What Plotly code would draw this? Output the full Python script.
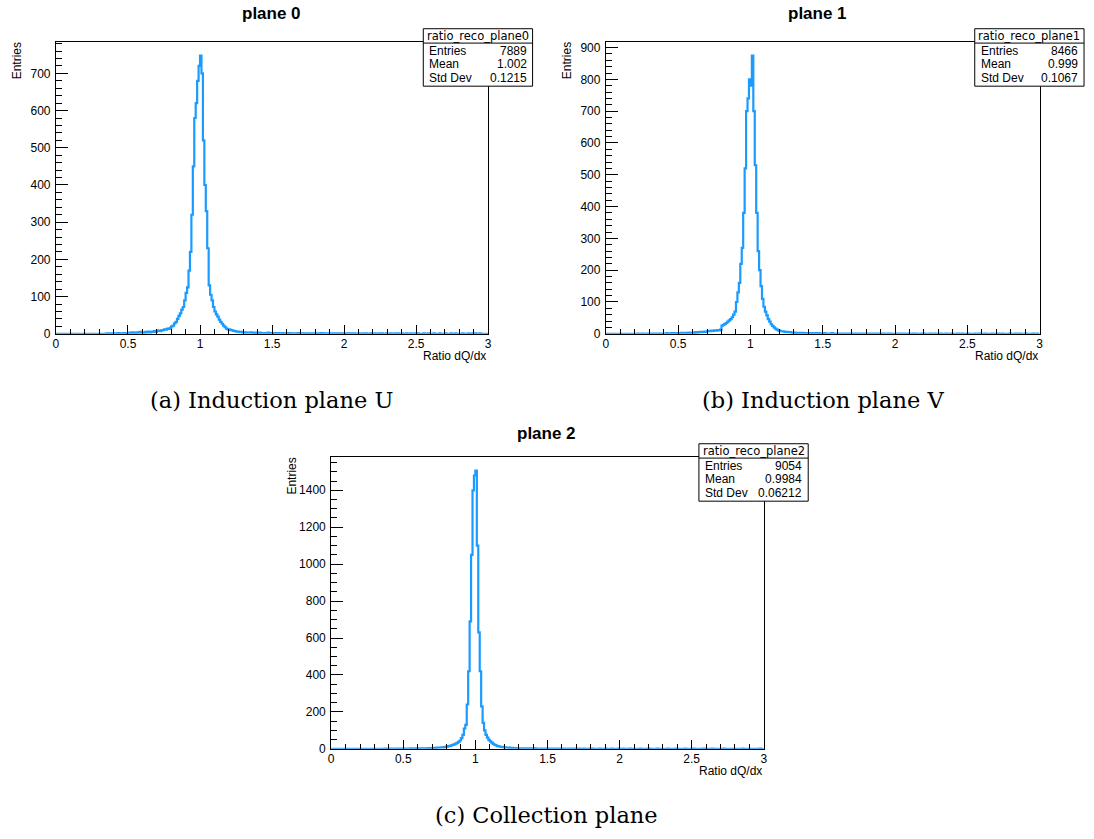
import plotly.graph_objects as go

W, H = 1094, 839
SANS = "Liberation Sans, Arial, Helvetica, sans-serif"
SERIF = "DejaVu Serif, serif"
LINE_COLOR = "#1a9bff"

# ---------------- data (histogram contents, 0.01-wide bins from 0 to 3) ----------------
x_min, x_max, bin_width = 0.0, 3.0, 0.01

plane0_counts = [
    0, 0, 0, 0, 0, 0, 0, 0, 0, 0,
    0, 0, 0, 0, 0, 0, 0, 0, 0, 0,
    0, 0, 0, 0, 0, 0, 0, 0, 0, 0,
    0, 0, 0, 0, 0, 1, 0, 1, 1, 0,
    1, 0, 1, 2, 1, 1, 0, 2, 1, 1,
    2, 3, 2, 4, 3, 2, 4, 3, 5, 3,
    4, 3, 5, 4, 6, 4, 5, 6, 7, 5,
    9, 8, 7, 9, 10, 12, 11, 14, 13, 16,
    20, 22, 28, 32, 40, 48, 55, 65, 72, 90,
    110, 125, 170, 220, 320, 450, 580, 620, 680, 720,
    748, 700, 520, 400, 330, 230, 130, 105, 90, 72,
    60, 52, 46, 38, 32, 27, 22, 18, 14, 12,
    12, 10, 9, 8, 7, 6, 6, 5, 5, 4,
    4, 4, 3, 3, 3, 4, 3, 2, 3, 2,
    2, 3, 2, 2, 1, 2, 2, 3, 1, 2,
    2, 1, 2, 1, 2, 1, 1, 2, 1, 1,
    1, 2, 1, 1, 1, 0, 1, 1, 2, 1,
    1, 1, 0, 1, 1, 1, 0, 1, 1, 0,
    1, 0, 1, 1, 2, 0, 1, 0, 1, 1,
    0, 1, 1, 0, 1, 0, 1, 1, 0, 1,
    1, 0, 1, 0, 1, 1, 0, 1, 0, 0,
    1, 0, 0, 1, 0, 1, 0, 0, 1, 0,
    0, 1, 0, 0, 1, 0, 1, 0, 0, 1,
    0, 0, 1, 0, 0, 1, 0, 1, 0, 0,
    1, 0, 0, 1, 0, 0, 1, 0, 0, 1,
    0, 1, 0, 0, 0, 1, 0, 0, 1, 0,
    0, 0, 1, 0, 0, 0, 1, 0, 0, 0,
    1, 0, 0, 0, 1, 0, 0, 1, 0, 0,
    0, 0, 1, 0, 0, 0, 1, 0, 0, 1,
    0, 1, 0, 0, 1, 0, 0, 0, 0, 0,
]

plane1_counts = [
    0, 0, 0, 0, 0, 0, 0, 0, 0, 0,
    0, 0, 0, 0, 0, 0, 0, 0, 0, 0,
    0, 0, 1, 0, 0, 1, 0, 0, 1, 0,
    1, 0, 1, 1, 0, 1, 1, 0, 1, 1,
    1, 1, 2, 1, 1, 2, 1, 2, 2, 1,
    2, 2, 3, 2, 3, 3, 2, 4, 3, 3,
    4, 3, 5, 4, 5, 6, 5, 6, 7, 6,
    8, 9, 8, 10, 9, 11, 10, 12, 11, 13,
    26, 28, 31, 34, 38, 42, 46, 52, 60, 70,
    100, 130, 160, 220, 270, 380, 520, 700, 740, 800,
    780, 875, 700, 530, 380, 260, 200, 150, 110, 85,
    70, 58, 46, 38, 30, 25, 20, 16, 13, 11,
    9, 8, 8, 7, 6, 6, 5, 5, 4, 4,
    4, 3, 3, 3, 3, 2, 3, 2, 2, 2,
    2, 2, 2, 1, 2, 2, 1, 2, 1, 1,
    1, 2, 1, 1, 1, 1, 2, 1, 1, 1,
    1, 1, 0, 1, 1, 1, 0, 1, 1, 0,
    1, 0, 1, 1, 0, 1, 1, 0, 1, 0,
    0, 1, 0, 1, 0, 1, 0, 1, 0, 1,
    1, 0, 1, 0, 0, 1, 0, 1, 0, 0,
    0, 1, 0, 1, 0, 0, 1, 0, 0, 1,
    0, 0, 1, 0, 1, 0, 0, 0, 1, 0,
    1, 0, 0, 0, 1, 0, 0, 1, 0, 0,
    0, 1, 0, 0, 0, 1, 0, 0, 0, 1,
    0, 0, 0, 1, 0, 0, 1, 0, 0, 0,
    1, 0, 0, 0, 0, 1, 0, 0, 1, 0,
    0, 0, 1, 0, 0, 0, 0, 1, 0, 0,
    0, 1, 0, 0, 1, 0, 0, 0, 0, 1,
    0, 0, 0, 1, 0, 0, 1, 0, 0, 0,
    1, 0, 0, 0, 0, 1, 0, 0, 1, 0,
]

plane2_counts = [
    0, 0, 0, 0, 0, 0, 0, 0, 0, 0,
    0, 0, 0, 0, 0, 0, 0, 0, 0, 0,
    0, 0, 0, 0, 0, 0, 0, 0, 0, 0,
    0, 0, 0, 0, 0, 0, 0, 1, 0, 0,
    0, 1, 0, 0, 1, 0, 1, 0, 1, 1,
    1, 1, 0, 1, 1, 2, 1, 1, 2, 1,
    2, 2, 3, 2, 2, 3, 3, 4, 3, 4,
    4, 5, 5, 6, 6, 7, 8, 8, 9, 10,
    12, 14, 16, 18, 21, 24, 28, 32, 38, 45,
    58, 75, 110, 130, 240, 420, 690, 1050, 1400, 1480,
    1507, 1100, 630, 420, 230, 140, 100, 75, 60, 48,
    40, 33, 27, 22, 18, 15, 13, 11, 10, 9,
    8, 7, 6, 6, 5, 5, 4, 4, 3, 3,
    3, 3, 2, 2, 2, 2, 2, 1, 2, 1,
    1, 2, 1, 1, 1, 1, 1, 1, 0, 1,
    1, 0, 1, 1, 0, 1, 0, 1, 0, 1,
    0, 1, 0, 0, 1, 0, 1, 0, 0, 1,
    0, 0, 1, 0, 0, 1, 0, 0, 0, 1,
    0, 1, 0, 0, 0, 0, 1, 0, 0, 0,
    1, 0, 0, 0, 1, 0, 0, 0, 0, 1,
    0, 0, 1, 0, 0, 0, 0, 1, 0, 0,
    0, 0, 0, 0, 1, 0, 0, 0, 0, 0,
    1, 0, 0, 0, 0, 0, 1, 0, 0, 0,
    0, 0, 0, 1, 0, 0, 0, 0, 0, 1,
    0, 0, 0, 0, 0, 1, 0, 0, 0, 0,
    0, 1, 0, 0, 0, 0, 0, 0, 1, 0,
    0, 0, 0, 0, 1, 0, 0, 0, 0, 0,
    0, 0, 1, 0, 0, 0, 0, 0, 0, 0,
    0, 0, 0, 0, 0, 1, 0, 0, 0, 0,
    0, 0, 0, 0, 0, 0, 0, 1, 0, 0,
]

panel_titles = ["plane 0", "plane 1", "plane 2"]
hist_names = ["ratio_reco_plane0", "ratio_reco_plane1", "ratio_reco_plane2"]
stat_labels = ["Entries", "Mean", "Std Dev"]
entries = ["7889", "8466", "9054"]
means = ["1.002", "0.999", "0.9984"]
std_devs = ["0.1215", "0.1067", "0.06212"]
captions = ["(a) Induction plane U", "(b) Induction plane V", "(c) Collection plane"]
x_title = "Ratio dQ/dx"
y_title = "Entries"
y_major = [100, 100, 200]
y_minor = [20, 20, 50]
x_major, x_minor = 0.5, 0.1

all_counts = [plane0_counts, plane1_counts, plane2_counts]

# ---------------- layout geometry (pixels) ----------------
frames = [(53.3, 41, 488.3, 336), (606.7, 41, 1043.3, 336), (330.3, 460, 765.7, 755)]
title_xy = [(270, 13), (820, 13), (547, 437)]
caption_xy = [(270, 403), (825, 403), (547, 822)]


def px(x):
    return x / W


def py(y):
    return 1 - y / H


fig = go.Figure()
shapes, annotations = [], []

for i, counts in enumerate(all_counts):
    n = len(counts)
    edges = [x_min + k * bin_width for k in range(n + 1)]
    yvals = list(counts) + [counts[-1]]
    sfx = "" if i == 0 else str(i + 1)
    fig.add_trace(go.Scatter(
        x=edges, y=yvals, mode="lines", line=dict(color=LINE_COLOR, width=2.2, shape="hv"),
        xaxis="x" + sfx, yaxis="y" + sfx, showlegend=False, cliponaxis=False,
        hoverinfo="x+y",
    ))
    l, t, r, b = frames[i]
    ymax = max(counts) * 1.05
    fig.update_layout(**{
        "xaxis" + sfx: dict(
            domain=[px(l), px(r)], range=[x_min, x_max], anchor="y" + sfx,
            showline=True, linecolor="black", linewidth=1, mirror=True,
            ticks="inside", ticklen=9, tickwidth=1, tickcolor="black",
            tick0=0, dtick=x_major, showgrid=False, zeroline=False,
            ticklabelstandoff=-1,
            minor=dict(ticks="inside", ticklen=4.5, tickwidth=1, tickcolor="black",
                       dtick=x_minor, tick0=0, showgrid=False),
            tickfont=dict(family=SANS, size=12, color="black"),
        ),
        "yaxis" + sfx: dict(
            domain=[py(b), py(t)], range=[0, ymax], anchor="x" + sfx,
            showline=True, linecolor="black", linewidth=1, mirror=True,
            ticks="inside", ticklen=12, tickwidth=1, tickcolor="black",
            tick0=0, dtick=y_major[i], showgrid=False, zeroline=False,
            ticklabelstandoff=2,
            minor=dict(ticks="inside", ticklen=6, tickwidth=1, tickcolor="black",
                       dtick=y_minor[i], tick0=0, showgrid=False),
            tickfont=dict(family=SANS, size=12, color="black"),
        ),
    })

    # panel title
    annotations.append(dict(x=px(title_xy[i][0]), y=py(title_xy[i][1]), xref="paper", yref="paper",
                            text="<b>" + panel_titles[i] + "</b>", showarrow=False,
                            xanchor="center", yanchor="middle",
                            font=dict(family=SANS, size=17, color="black")))
    # axis titles
    annotations.append(dict(x=px(r), y=py(b + 22), xref="paper", yref="paper", text=x_title,
                            showarrow=False, xanchor="right", yanchor="middle",
                            font=dict(family=SANS, size=12, color="black")))
    annotations.append(dict(x=px(l - 39), y=py(t - 1), xref="paper", yref="paper", text=y_title,
                            showarrow=False, xanchor="center", yanchor="top", textangle=-90,
                            font=dict(family=SANS, size=12, color="black")))
    # caption
    annotations.append(dict(x=px(caption_xy[i][0]), y=py(caption_xy[i][1]), xref="paper", yref="paper",
                            text=captions[i], showarrow=False, xanchor="center", yanchor="middle",
                            font=dict(family=SERIF, size=22.5, color="black")))

    # stats box
    bx1 = r + 44.7
    bx0 = bx1 - 110
    by0 = t - 13
    by1 = by0 + 58
    bdiv = by0 + 14.5
    shapes.append(dict(type="rect", xref="paper", yref="paper", x0=px(bx0), x1=px(bx1),
                       y0=py(by1), y1=py(by0), fillcolor="white",
                       line=dict(color="black", width=1), layer="above"))
    shapes.append(dict(type="line", xref="paper", yref="paper", x0=px(bx0), x1=px(bx1),
                       y0=py(bdiv), y1=py(bdiv), line=dict(color="black", width=1), layer="above"))
    annotations.append(dict(x=px((bx0 + bx1) / 2), y=py(by0 + 7), xref="paper", yref="paper",
                            text=hist_names[i], showarrow=False, xanchor="center", yanchor="middle",
                            font=dict(family="DejaVu Sans, sans-serif", size=11.5, color="black")))
    vals = [entries[i], means[i], std_devs[i]]
    for k, lab in enumerate(stat_labels):
        ry = by0 + 22 + 14 * k
        annotations.append(dict(x=px(bx0 + 4), y=py(ry), xref="paper", yref="paper", text=lab,
                                showarrow=False, xanchor="left", yanchor="middle",
                                font=dict(family=SANS, size=12, color="black")))
        annotations.append(dict(x=px(bx1 - 4), y=py(ry), xref="paper", yref="paper", text=vals[k],
                                showarrow=False, xanchor="right", yanchor="middle",
                                font=dict(family=SANS, size=12, color="black")))

fig.update_layout(
    width=W, height=H, margin=dict(l=0, r=0, t=0, b=0),
    paper_bgcolor="white", plot_bgcolor="white",
    shapes=shapes, annotations=annotations, showlegend=False,
)

fig.write_html("out.html")
